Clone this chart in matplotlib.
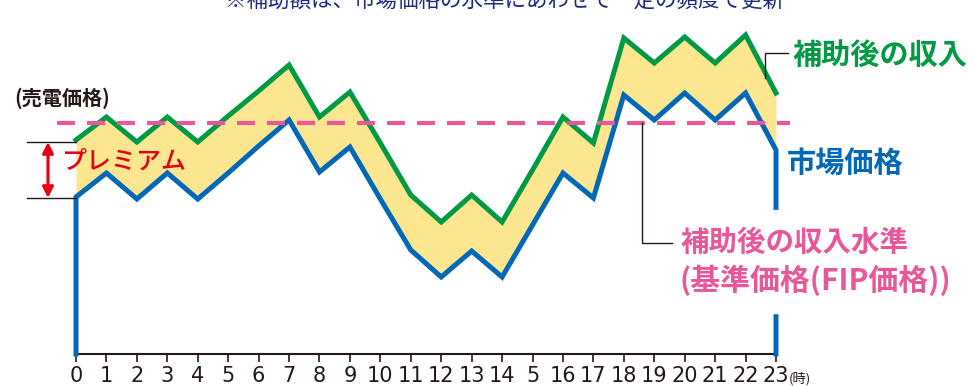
import matplotlib
matplotlib.use('Agg')
import matplotlib.pyplot as plt
from matplotlib.lines import Line2D

plt.rcParams['font.family'] = ['Noto Sans CJK JP', 'DejaVu Sans']

# 時刻 (0~23時)
hours = list(range(24))
tick_labels = ['0', '1', '2', '3', '4', '5', '6', '7', '8', '9', '10', '11',
               '12', '13', '14', '5', '16', '17', '18', '19', '20', '21', '22', '23']

# 市場価格 (相対値)
market = [157, 181, 155, 181, 155, 181, 208, 234, 182, 207, 155, 104,
          77, 103, 77, 129, 181, 156, 259, 234, 261, 234, 261, 204]
# 補助後の収入 (市場価格 + プレミアム)
after_sub = [214, 237, 212, 237, 212, 238, 263, 289, 237, 262, 211, 159,
             132, 159, 132, 184, 237, 211, 316, 291, 317, 291, 319, 261]
# 基準価格 (FIP価格)
fip = 231

W, H = 974, 386
BLUE = '#0068b7'
GREEN = '#009944'
PINK = '#e8579a'
YELLOW = '#fde690'
RED = '#e60012'


def fx(px):
    return px / W


def fy(py):
    return 1 - py / H


fig = plt.figure(figsize=(W / 100, H / 100), dpi=100)
ax = fig.add_axes([fx(76), fy(354), 700 / W, 354 / H])
ax.set_xlim(0, 23)
ax.set_ylim(0, 354)

# 塗りつぶし (プレミアム部分)
ax.fill_between(hours, market, after_sub, color=YELLOW, lw=0, zorder=1)
# 補助後の収入
ax.plot(hours, after_sub, color=GREEN, lw=3.6, solid_joinstyle='miter',
        clip_on=False, zorder=3)
# 市場価格 (両端は縦線で軸まで)
ax.plot([0] + hours + [23], [0] + market + [0], color=BLUE, lw=3.6,
        solid_joinstyle='miter', clip_on=False, zorder=3)
# 基準価格 破線
ax.plot([-0.63, 23.45], [fip, fip], color=PINK, lw=3, dashes=(4.3, 2.9),
        clip_on=False, zorder=4)

for s in ['top', 'right', 'left']:
    ax.spines[s].set_visible(False)
ax.spines['bottom'].set_linewidth(1.5)
ax.spines['bottom'].set_color('#231815')
ax.set_yticks([])
ax.set_xticks(hours)
ax.set_xticklabels(tick_labels)
ax.tick_params(axis='x', direction='out', length=6, width=1.2, pad=3,
               labelsize=15, colors='#231815')
for lab in ax.get_xticklabels():
    lab.set_family(['Liberation Sans Narrow', 'DejaVu Sans'])
fig.text(fx(789), fy(379), '(時)', fontsize=9.5, color='#231815',
         ha='left', va='center')

# 上部の注記
fig.text(fx(505), fy(1), '※補助額は、市場価格の水準にあわせて一定の頻度で更新',
         fontsize=15.5, color='#1d2a7a', ha='center', va='center')

# (売電価格)
fig.text(fx(14), fy(98), '(売電価格)', fontsize=14.5, weight='bold',
         color='#231815', ha='left', va='center')

# プレミアム 括弧
for py in [142, 198]:
    fig.add_artist(Line2D([fx(27), fx(76)], [fy(py), fy(py)], color='#231815', lw=1))
ax.annotate('', xy=(fx(48), fy(142)), xytext=(fx(48), fy(198)),
            xycoords='figure fraction', textcoords='figure fraction',
            arrowprops=dict(arrowstyle='<|-|>', color=RED, lw=2.2,
                            mutation_scale=16, shrinkA=0, shrinkB=0))
fig.text(fx(61), fy(162), 'プレミアム', fontsize=18, weight='medium',
         color=RED, ha='left', va='center', zorder=6)

# 補助後の収入 ラベル
fig.add_artist(Line2D([fx(765), fx(765), fx(788)], [fy(78), fy(53), fy(53)],
                      color='#231815', lw=1))
fig.text(fx(792), fy(55), '補助後の収入', fontsize=21, weight='bold',
         color=GREEN, ha='left', va='center')

# 市場価格 ラベル
fig.text(fx(787), fy(163), '市場価格', fontsize=21, weight='bold',
         color=BLUE, ha='left', va='center')

# 補助後の収入水準 ラベル
fig.patches.append(plt.Rectangle((fx(768), fy(313)), 16 / W, 103 / H,
                                 transform=fig.transFigure, color='white',
                                 zorder=2))
fig.add_artist(Line2D([fx(642), fx(642), fx(672)], [fy(123), fy(243), fy(243)],
                      color='#231815', lw=1, zorder=5))
fig.text(fx(680), fy(243), '補助後の収入水準', fontsize=20.5, weight='bold',
         color=PINK, ha='left', va='center')
fig.text(fx(679), fy(280), '(基準価格(FIP価格))', fontsize=21.5, weight='bold',
         color=PINK, ha='left', va='center')

fig.savefig('out.png', dpi=100)
